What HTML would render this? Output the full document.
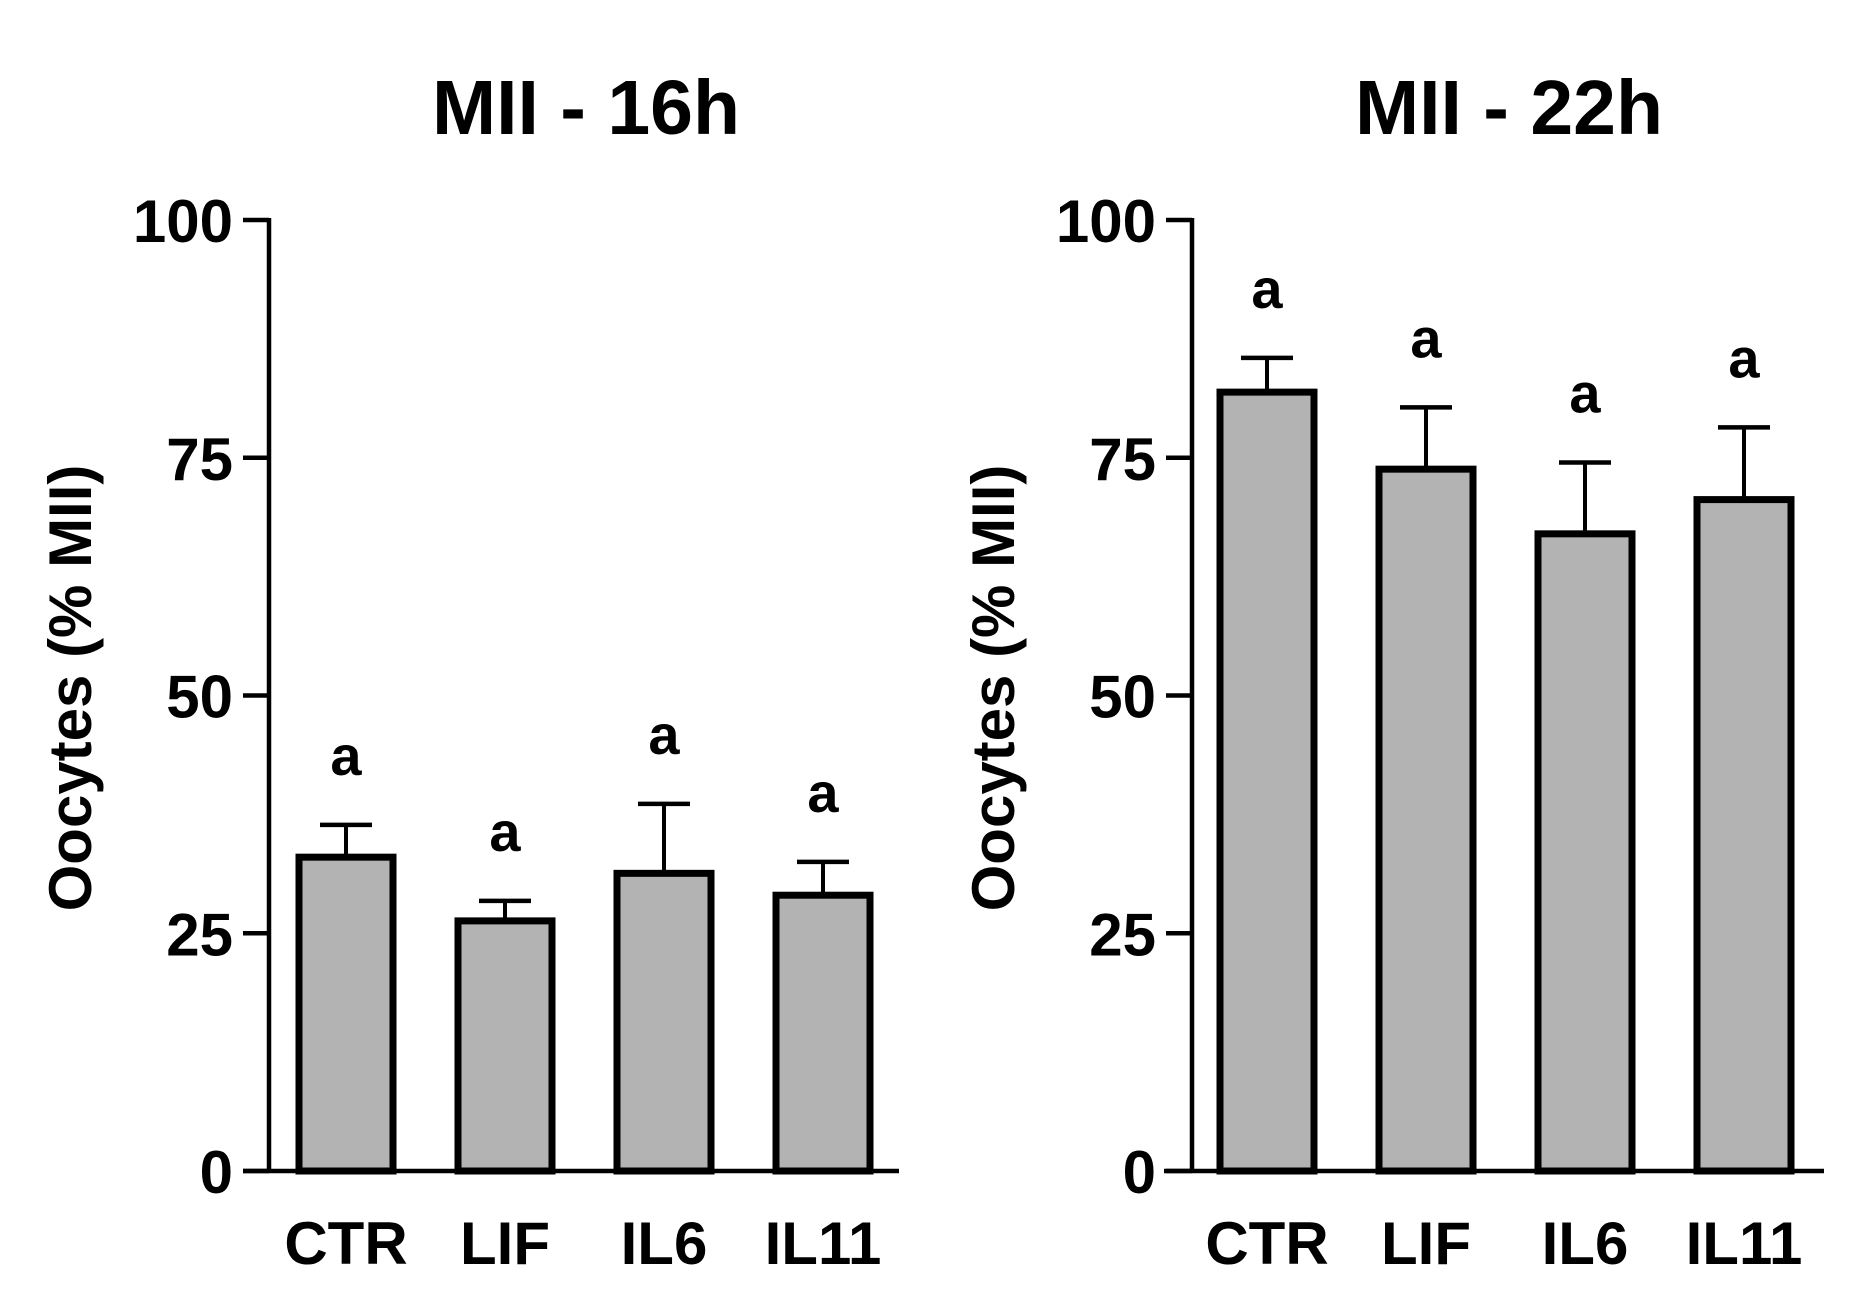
<!DOCTYPE html>
<html><head><meta charset="utf-8"><style>
html,body{margin:0;padding:0;background:#fff;}
svg{display:block;font-family:"Liberation Sans",Arial,sans-serif;font-weight:bold;}
</style></head><body>
<svg id="chart" width="1866" height="1301" viewBox="0 0 1866 1301"></svg>
<script>
const categories = ["CTR","LIF","IL6","IL11"];
const means16 = [33.0, 26.3, 31.3, 29.0];
const errTop16 = [36.4, 28.4, 38.6, 32.5];
const means22 = [81.9, 73.8, 67.0, 70.6];
const errTop22 = [85.5, 80.3, 74.5, 78.2];
const sigLetters16 = ["a","a","a","a"];
const sigLetters22 = ["a","a","a","a"];
const yTicks = [0,25,50,75,100];
const titles = ["MII - 16h","MII - 22h"];

const NS="http://www.w3.org/2000/svg";
const svg=document.getElementById('chart');
function mk(tag,attrs,parent){const e=document.createElementNS(NS,tag);for(const k in attrs)e.setAttribute(k,attrs[k]);(parent||svg).appendChild(e);return e;}

const y0=1171, y100=220;
function yScale(v){return y0-(y0-y100)*v/100;}

function panel(axisX, xStart, xEnd, firstBarX, title, titleX, means, errs, letters, idx){
  const g=mk('g',{});
  
  
  const t=mk('text',{x:titleX,y:134,'font-size':77,'text-anchor':'middle'},g);
  t.textContent=title;
  
  
  const yt=mk('text',{transform:`translate(${axisX-178},688) rotate(-90)`,'font-size':60,'text-anchor':'middle'},g);
  yt.textContent='Oocytes (% MII)';
  
  
  const step=159, bw=94;
  means.forEach((m,i)=>{
    const cx=firstBarX+i*step;
    const top=yScale(m), et=yScale(errs[i]);
    const eb=mk('line',{x1:cx,x2:cx,y1:top,y2:et,stroke:'#000','stroke-width':4},g);
    
    
    const cap=mk('line',{x1:cx-26,x2:cx+26,y1:et,y2:et,stroke:'#000','stroke-width':4.5},g);
    
    
    const r=mk('rect',{x:cx-bw/2,y:top,width:bw,height:y0-top,fill:'#b3b3b3',stroke:'#000','stroke-width':7},g);
    
    
    const lt=mk('text',{x:cx,y:et-50,'font-size':56,'text-anchor':'middle'},g);
    lt.textContent=letters[i];
    
    
    const xl=mk('text',{x:cx,y:1264,'font-size':60,'text-anchor':'middle'},g);
    xl.textContent=categories[i];
    
    
  });
  const ya=mk('line',{x1:axisX,x2:axisX,y1:y100-2,y2:y0+2,stroke:'#000','stroke-width':4.5},g);
  
  
  const xa=mk('line',{x1:xStart,x2:xEnd,y1:y0,y2:y0,stroke:'#000','stroke-width':4.5},g);
  
  
  yTicks.forEach(v=>{
    const y=yScale(v);
    const tk=mk('line',{x1:axisX-26,x2:axisX,y1:y,y2:y,stroke:'#000','stroke-width':4.5},g);
    
    
    const tl=mk('text',{x:axisX-36,y:y+22,'font-size':60,'text-anchor':'end'},g);
    tl.textContent=v;
    
    
  });
}
panel(269,243,899,346,titles[0],586,means16,errTop16,sigLetters16,0);
panel(1192,1164,1824,1267,titles[1],1509,means22,errTop22,sigLetters22,1);
</script>
</body></html>
